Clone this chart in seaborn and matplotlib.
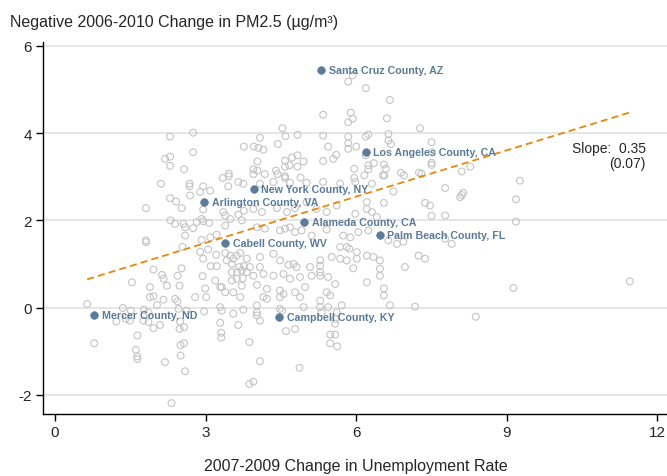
import matplotlib
matplotlib.use("Agg")
import matplotlib.pyplot as plt
import seaborn as sns
import pandas as pd

# background counties: unemployment change (x) vs negative PM2.5 change (y)
unemp = [
    2.29, 2.75, 3.76, 2.75, 2.19, 2.29, 2.29, 2.57, 3.34, 3.46, 3.46,
    5.84, 5.93, 6.19, 6.67, 5.34, 5.89, 5.93, 5.84, 6.61, 7.27, 4.53,
    4.08, 4.59, 4.83, 5.34, 5.84, 6.19, 6.24, 6.64, 6.64, 3.96, 4.05,
    4.15, 4.44, 5.44, 5.84, 5.84, 6.00, 6.69, 7.50, 7.51, 4.03, 4.58,
    4.72, 4.83, 4.95, 5.34, 5.54, 5.60, 6.19, 6.35, 6.55, 7.50, 7.50,
    3.95, 4.03, 4.40, 4.58, 4.67, 4.83, 5.96, 6.24, 6.24, 6.59, 6.89,
    6.95, 7.25, 7.30, 3.95, 4.18, 4.43, 4.58, 4.58, 4.89, 5.96, 6.16,
    6.53, 6.56, 8.10, 8.27, 2.11, 2.68, 2.68, 2.95, 3.09, 3.45, 3.65,
    3.75, 2.29, 2.41, 2.52, 1.81, 2.69, 2.89, 2.95, 2.92, 2.95, 3.07,
    2.82, 2.56, 2.30, 2.39, 2.59, 2.75, 3.39, 3.35, 3.49, 3.65, 3.76,
    3.72, 3.39, 3.22, 3.09, 2.92, 2.59, 2.54, 1.81, 1.81, 3.05, 2.89,
    2.95, 3.21, 3.39, 3.49, 3.55, 3.62, 3.69, 3.82, 3.42, 3.10, 3.22,
    3.52, 3.67, 3.76, 3.52, 3.62, 3.72, 3.82, 1.96, 2.52, 1.53, 2.13,
    2.16, 2.23, 2.44, 2.48, 2.94, 3.19, 3.32, 3.52, 3.62, 3.74, 3.72,
    1.89, 1.89, 1.96, 2.16, 2.03, 2.39, 2.44, 2.99, 2.79, 3.01, 3.29,
    3.39, 3.55, 3.69, 0.64, 1.35, 1.51, 1.77, 1.86, 2.46, 2.62, 2.97,
    3.29, 3.32, 3.55, 3.75, 1.22, 1.49, 1.86, 2.09, 2.49, 3.29, 3.65,
    1.41, 1.76, 1.96, 1.64, 0.78, 1.61, 1.64, 1.64, 2.19, 2.48, 2.57,
    2.50, 2.57, 2.50, 2.59, 2.32, 3.31, 3.31, 3.87, 3.87, 4.08, 4.35,
    4.68, 5.01, 5.34, 5.68, 5.98, 6.31, 6.74, 3.95, 4.12, 4.42, 4.62,
    4.78, 5.01, 5.21, 5.41, 5.61, 5.98, 6.21, 6.21, 6.31, 6.55, 7.37,
    7.47, 7.50, 6.41, 4.02, 4.18, 4.48, 4.58, 4.68, 4.78, 4.91, 5.11,
    5.41, 5.74, 5.88, 6.04, 6.24, 6.64, 6.81, 6.94, 5.68, 5.81, 5.86,
    6.01, 6.01, 6.21, 6.34, 6.47, 6.47, 6.47, 6.97, 7.24, 7.37, 5.68,
    5.81, 5.94, 5.51, 5.28, 5.28, 5.08, 4.81, 4.75, 4.65, 4.48, 4.35,
    4.08, 4.08, 3.88, 3.95, 4.15, 4.35, 4.55, 4.68, 4.88, 5.11, 5.28,
    5.44, 5.28, 4.02, 4.22, 4.48, 4.55, 4.78, 4.98, 5.41, 5.48, 5.58,
    6.21, 6.55, 6.55, 4.15, 4.22, 4.48, 4.88, 5.28, 4.02, 4.48, 4.52,
    4.95, 5.28, 5.44, 5.71, 6.67, 7.17, 4.02, 4.02, 5.31, 5.61, 4.08,
    5.58, 5.58, 4.60, 4.78, 5.48, 5.58, 5.48, 5.62, 4.08, 4.87, 3.95,
    7.77, 8.07, 8.13, 8.10, 9.26, 9.18, 7.77, 9.18, 7.77, 7.90, 9.13,
    11.45, 8.38,
]
pm25 = [
    3.92, 4.01, 3.69, 3.56, 3.41, 3.46, 3.25, 3.17, 2.97, 3.07, 3.01,
    5.18, 5.32, 5.03, 4.76, 4.42, 4.47, 4.33, 4.25, 4.34, 4.11, 4.11,
    3.89, 3.93, 3.96, 3.94, 3.92, 3.92, 3.97, 3.98, 3.83, 3.69, 3.66,
    3.62, 3.75, 3.69, 3.77, 3.64, 3.69, 3.75, 3.79, 3.56, 3.35, 3.37,
    3.44, 3.49, 3.35, 3.36, 3.41, 3.50, 3.49, 3.31, 3.28, 3.32, 3.27,
    3.17, 3.14, 3.14, 3.23, 3.26, 3.23, 3.18, 3.17, 3.26, 3.18, 3.09,
    3.03, 3.09, 3.07, 3.06, 3.06, 3.06, 3.01, 2.97, 2.98, 2.97, 3.03,
    3.03, 3.03, 3.12, 3.23, 2.84, 2.84, 2.78, 2.78, 2.68, 2.78, 2.88,
    2.84, 2.51, 2.43, 2.28, 2.28, 2.57, 2.65, 2.25, 2.03, 1.98, 1.94,
    1.96, 1.92, 2.00, 1.92, 1.84, 1.82, 2.11, 2.19, 2.03, 2.13, 2.22,
    2.00, 1.88, 1.67, 1.61, 1.55, 1.65, 1.39, 1.54, 1.50, 1.33, 1.28,
    1.12, 1.21, 1.25, 1.19, 1.12, 1.19, 1.25, 1.12, 1.08, 0.95, 0.95,
    1.00, 0.93, 0.95, 0.81, 0.81, 0.85, 0.81, 0.87, 0.90, 0.58, 0.75,
    0.66, 0.50, 0.73, 0.50, 0.72, 0.62, 0.47, 0.62, 0.66, 0.67, 0.50,
    0.47, 0.24, 0.26, 0.18, 0.06, 0.20, 0.14, 0.44, 0.24, 0.24, 0.47,
    0.35, 0.35, 0.24, 0.08, -0.01, -0.07, -0.05, -0.11, -0.03, -0.07, -0.09,
    0.01, -0.07, -0.14, -0.05, -0.32, -0.30, -0.33, -0.40, -0.32, -0.35, -0.40,
    -0.26, -0.30, -0.47, -0.64, -0.82, -0.97, -1.12, -1.18, -1.25, -0.49, -0.45,
    -0.86, -0.82, -1.10, -1.46, -2.19, -0.58, -0.69, -0.79, -1.75, 2.84, 2.88,
    2.86, 2.86, 2.88, 2.84, 2.88, 2.84, 2.66, 2.26, 2.19, 2.28, 2.19,
    2.28, 2.42, 2.26, 2.19, 2.34, 2.15, 2.42, 2.26, 2.19, 2.40, 2.40,
    2.34, 2.10, 2.07, 1.84, 1.81, 1.77, 1.81, 1.84, 1.73, 1.77, 1.65,
    1.79, 1.65, 1.61, 1.73, 1.77, 1.54, 1.46, 1.51, 1.39, 1.39, 1.35,
    1.27, 1.12, 1.19, 1.16, 1.08, 0.89, 0.73, 0.93, 1.19, 1.12, 1.12,
    1.08, 0.90, 1.16, 1.08, 0.96, 0.93, 0.93, 1.00, 0.98, 1.08, 1.23,
    1.16, 0.93, 0.93, 0.73, 0.77, 0.73, 0.77, 0.66, 0.70, 0.73, 0.73,
    0.70, 0.81, 0.52, 0.43, 0.39, 0.31, 0.35, 0.47, 0.35, 0.28, 0.54,
    0.58, 0.44, 0.28, 0.24, 0.20, 0.24, 0.24, 0.16, 0.05, -0.03, -0.07,
    0.01, 0.01, 0.01, 0.05, 0.05, 0.02, -0.11, -0.18, -0.11, -0.11, -0.30,
    -0.26, -0.37, -0.54, -0.49, -0.62, -0.62, -0.82, -0.89, -1.23, -1.38, -1.70,
    2.74, 2.53, 2.63, 2.58, 2.91, 2.48, 2.11, 1.97, 1.58, 1.46, 0.45,
    0.60, -0.21,
]

# labelled counties
county_names = ["Santa Cruz County, AZ", "Los Angeles County, CA", "New York County, NY",
                "Arlington County, VA", "Alameda County, CA", "Palm Beach County, FL",
                "Cabell County, WV", "Mercer County, ND", "Campbell County, KY"]
county_x = [5.30, 6.19, 3.96, 2.97, 4.96, 6.47, 3.39, 0.78, 4.47]
county_y = [5.45, 3.56, 2.71, 2.42, 1.96, 1.67, 1.49, -0.18, -0.22]

# fitted line
fit_slope = 0.354
fit_intercept = 0.42
slope_text = "Slope:  0.35"
se_text = "(0.07)"

df = pd.DataFrame({"unemp": unemp, "pm25": pm25})
hl = pd.DataFrame({"unemp": county_x, "pm25": county_y, "name": county_names})
x_lo, x_hi = min(unemp + county_x), max(unemp + county_x)
fit = pd.DataFrame({"unemp": [x_lo, x_hi]})
fit["pm25"] = fit_intercept + fit_slope * fit["unemp"]

sns.set_style("white")
plt.rcParams["font.family"] = ["Liberation Sans", "DejaVu Sans"]
plt.rcParams["axes.unicode_minus"] = False

fig = plt.figure(figsize=(6.67, 4.77), dpi=100)
ax = fig.add_axes([0.0645, 0.130, 0.9355, 0.780])

ax.yaxis.grid(True, color="#e4e4e4", linewidth=1.3)
ax.set_axisbelow(True)

sns.scatterplot(data=df, x="unemp", y="pm25", ax=ax, s=24, facecolor="none",
                edgecolor="#c4c4c4", linewidth=0.8, zorder=2)
sns.lineplot(data=fit, x="unemp", y="pm25", ax=ax, color="#e8870e", linewidth=1.3,
             dashes=False, zorder=3).lines[0].set_dashes((3.9, 2.3))
sns.scatterplot(data=hl, x="unemp", y="pm25", ax=ax, s=30, color="#5b7b9a",
                edgecolor="#5b7b9a", linewidth=0.5, zorder=4)
for _, r in hl.iterrows():
    ax.annotate(r["name"], (r["unemp"], r["pm25"]), xytext=(5.5, 0),
                textcoords="offset points", va="center", ha="left",
                fontsize=7.7, fontweight="bold", color="#5b7b9a", zorder=5)

ax.text(11.77, 3.66, slope_text, ha="right", va="center", fontsize=10)
ax.text(11.77, 3.32, se_text, ha="right", va="center", fontsize=10)

ax.set_xlim(-0.24, 12.19)
ax.set_ylim(-2.44, 6.09)
ax.set_xticks([0, 3, 6, 9, 12])
ax.set_yticks([-2, 0, 2, 4, 6])
ax.tick_params(axis="both", direction="out", length=5, width=1, labelsize=11,
               color="black", pad=3, left=True, bottom=True)
for s in ["top", "right"]:
    ax.spines[s].set_visible(False)
for s in ["left", "bottom"]:
    ax.spines[s].set_color("black")
    ax.spines[s].set_linewidth(1.0)
ax.set_xlabel("")
ax.set_ylabel("")

fig.text(0.015, 0.952, "Negative 2006-2010 Change in PM2.5 (\u00b5g/m\u00b3)",
         ha="left", va="center", fontsize=11.5)
fig.text(0.534, 0.021, "2007-2009 Change in Unemployment Rate",
         ha="center", va="center", fontsize=11.5)

fig.savefig("out.png", dpi=100)
